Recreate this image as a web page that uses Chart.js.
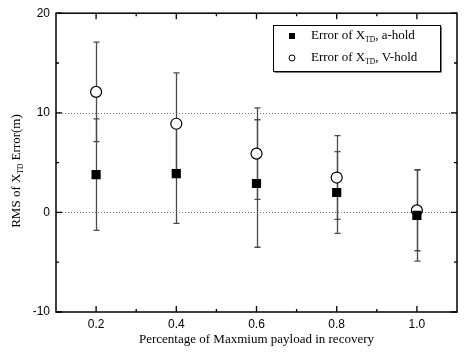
<!DOCTYPE html>
<html>
<head>
<meta charset="utf-8">
<script src="https://cdn.jsdelivr.net/npm/chart.js@4.4.0/dist/chart.umd.min.js"></script>
<style>
  body { margin: 0; background: #fff; }
  #wrap { width: 468px; height: 356px; }
</style>
</head>
<body>
<div id="wrap"><canvas id="chart"></canvas></div>
<script>
// data
const payload = [0.2, 0.4, 0.6, 0.8, 1.0];
const aHoldRms = [3.8, 3.9, 2.9, 2.0, -0.3];
const aHoldErr = [5.6, 5.0, 6.4, 4.1, 4.6];
const vHoldRms = [12.1, 8.9, 5.9, 3.5, 0.2];
const vHoldErr = [5.0, 5.1, 4.6, 4.2, 4.05];
const xTicks = [0.2, 0.4, 0.6, 0.8, 1.0];
const xMinor = [0.3, 0.5, 0.7, 0.9];
const yTicks = [-10, 0, 10, 20];
const yMinor = [-5, 5, 15];
const dottedAt = [0, 10];

const serif = '"Liberation Serif", "Times New Roman", serif';
const sans = '"Liberation Sans", Arial, sans-serif';

function pts(ys) {
  return payload.map((x, i) => ({ x: x, y: ys[i] }));
}

// text with a small "TD" subscript, drawn left to right from (x, y)
function subText(ctx, parts, x, y) {
  let cx = x;
  parts.forEach(p => {
    ctx.font = p.sub ? '7.5px ' + serif : '13px ' + serif;
    ctx.fillText(p.t, cx, y + (p.sub ? 4 : 0));
    cx += ctx.measureText(p.t).width;
  });
  return cx - x;
}
function measureSub(ctx, parts) {
  let w = 0;
  parts.forEach(p => {
    ctx.font = p.sub ? '7.5px ' + serif : '13px ' + serif;
    w += ctx.measureText(p.t).width;
  });
  return w;
}

const errorBars = {
  id: 'errorBars',
  beforeDatasetsDraw(chart) {
    const { ctx, chartArea: a, scales: { x, y } } = chart;
    ctx.save();
    // dotted reference lines
    ctx.strokeStyle = '#777';
    ctx.lineWidth = 1;
    ctx.setLineDash([1, 2]);
    dottedAt.forEach(v => {
      const py = Math.round(y.getPixelForValue(v)) + 0.5;
      ctx.beginPath();
      ctx.moveTo(a.left, py);
      ctx.lineTo(a.right, py);
      ctx.stroke();
    });
    ctx.setLineDash([]);
    // error bars
    ctx.strokeStyle = '#4a4a4a';
    ctx.lineWidth = 1.3;
    const bars = [[aHoldRms, aHoldErr], [vHoldRms, vHoldErr]];
    bars.forEach(([m, e]) => {
      payload.forEach((xv, i) => {
        const px = Math.round(x.getPixelForValue(xv)) + 0.5;
        const top = y.getPixelForValue(m[i] + e[i]);
        const bot = y.getPixelForValue(m[i] - e[i]);
        ctx.beginPath();
        ctx.moveTo(px, top); ctx.lineTo(px, bot);
        ctx.moveTo(px - 3, top); ctx.lineTo(px + 3, top);
        ctx.moveTo(px - 3, bot); ctx.lineTo(px + 3, bot);
        ctx.stroke();
      });
    });
    ctx.restore();
  },
  afterDraw(chart) {
    const { ctx, chartArea: a, scales: { x, y } } = chart;
    ctx.save();
    // frame
    ctx.strokeStyle = '#000';
    ctx.lineWidth = 1.5;
    ctx.strokeRect(a.left, a.top, a.right - a.left, a.bottom - a.top);
    // inward ticks on all four sides
    ctx.lineWidth = 1.3;
    ctx.beginPath();
    xTicks.concat(xMinor).forEach(v => {
      const len = xTicks.includes(v) ? 6 : 3;
      const px = x.getPixelForValue(v);
      ctx.moveTo(px, a.bottom); ctx.lineTo(px, a.bottom - len);
      ctx.moveTo(px, a.top); ctx.lineTo(px, a.top + len);
    });
    yTicks.concat(yMinor).forEach(v => {
      const len = yTicks.includes(v) ? 6 : 3;
      const py = y.getPixelForValue(v);
      ctx.moveTo(a.left, py); ctx.lineTo(a.left + len, py);
      ctx.moveTo(a.right, py); ctx.lineTo(a.right - len, py);
    });
    ctx.stroke();

    ctx.fillStyle = '#000';
    ctx.textBaseline = 'middle';
    // x title
    ctx.font = '13px ' + serif;
    ctx.textAlign = 'center';
    ctx.fillText('Percentage of Maxmium payload in recovery', (a.left + a.right) / 2, 340);
    // y title (rotated, with subscript)
    ctx.textAlign = 'left';
    const yParts = [{ t: 'RMS of X' }, { t: 'TD', sub: true }, { t: ' Error(m)' }];
    const yw = measureSub(ctx, yParts);
    ctx.save();
    ctx.translate(17, 171);
    ctx.rotate(-Math.PI / 2);
    subText(ctx, yParts, -yw / 2, 0);
    ctx.restore();

    // legend
    const lx = 273, ly = 25, lw = 167, lh = 46;
    ctx.fillStyle = '#000';
    ctx.fillRect(lx + 1.5, ly + 1.5, lw, lh);
    ctx.fillStyle = '#fff';
    ctx.fillRect(lx, ly, lw, lh);
    ctx.strokeStyle = '#000';
    ctx.lineWidth = 1;
    ctx.strokeRect(lx + 0.5, ly + 0.5, lw, lh);
    const rows = [
      { y: 36, sq: true, parts: [{ t: 'Error of X' }, { t: 'TD', sub: true }, { t: ', a-hold' }] },
      { y: 58, sq: false, parts: [{ t: 'Error of X' }, { t: 'TD', sub: true }, { t: ', V-hold' }] }
    ];
    rows.forEach(r => {
      ctx.fillStyle = '#000';
      if (r.sq) {
        ctx.fillRect(289, r.y - 3, 6, 6);
      } else {
        ctx.beginPath();
        ctx.arc(292, r.y, 3, 0, Math.PI * 2);
        ctx.fillStyle = '#fff';
        ctx.fill();
        ctx.lineWidth = 1;
        ctx.stroke();
      }
      ctx.fillStyle = '#000';
      subText(ctx, r.parts, 311, r.y);
    });
    ctx.restore();
  }
};

new Chart(document.getElementById('chart'), {
  type: 'scatter',
  data: {
    datasets: [
      {
        label: 'Error of XTD, a-hold',
        data: pts(aHoldRms),
        pointStyle: 'rect',
        pointRadius: 6.5,
        backgroundColor: '#000',
        borderColor: '#000',
        borderWidth: 0
      },
      {
        label: 'Error of XTD, V-hold',
        data: pts(vHoldRms),
        pointStyle: 'circle',
        pointRadius: 5.5,
        backgroundColor: '#fff',
        borderColor: '#000',
        borderWidth: 1.2
      }
    ]
  },
  options: {
    responsive: true,
    maintainAspectRatio: false,
    animation: false,
    layout: { padding: { top: 12, right: 11, left: 0, bottom: 0 } },
    plugins: { legend: { display: false }, tooltip: { enabled: false } },
    scales: {
      x: {
        type: 'linear',
        min: 0.1,
        max: 1.1,
        afterBuildTicks: s => { s.ticks = xTicks.map(v => ({ value: v })); },
        afterFit: s => { s.height = 44; },
        grid: { display: false, drawTicks: false },
        border: { display: false },
        ticks: {
          padding: 5,
          color: '#000',
          font: { family: sans, size: 12 },
          callback: v => v.toFixed(1)
        }
      },
      y: {
        min: -10,
        max: 20,
        afterBuildTicks: s => { s.ticks = yTicks.map(v => ({ value: v })); },
        afterFit: s => { s.width = 56; },
        grid: { display: false, drawTicks: false },
        border: { display: false },
        ticks: {
          padding: 6,
          color: '#000',
          font: { family: sans, size: 12 },
          callback: v => String(v)
        }
      }
    }
  },
  plugins: [errorBars]
});
</script>
</body>
</html>
